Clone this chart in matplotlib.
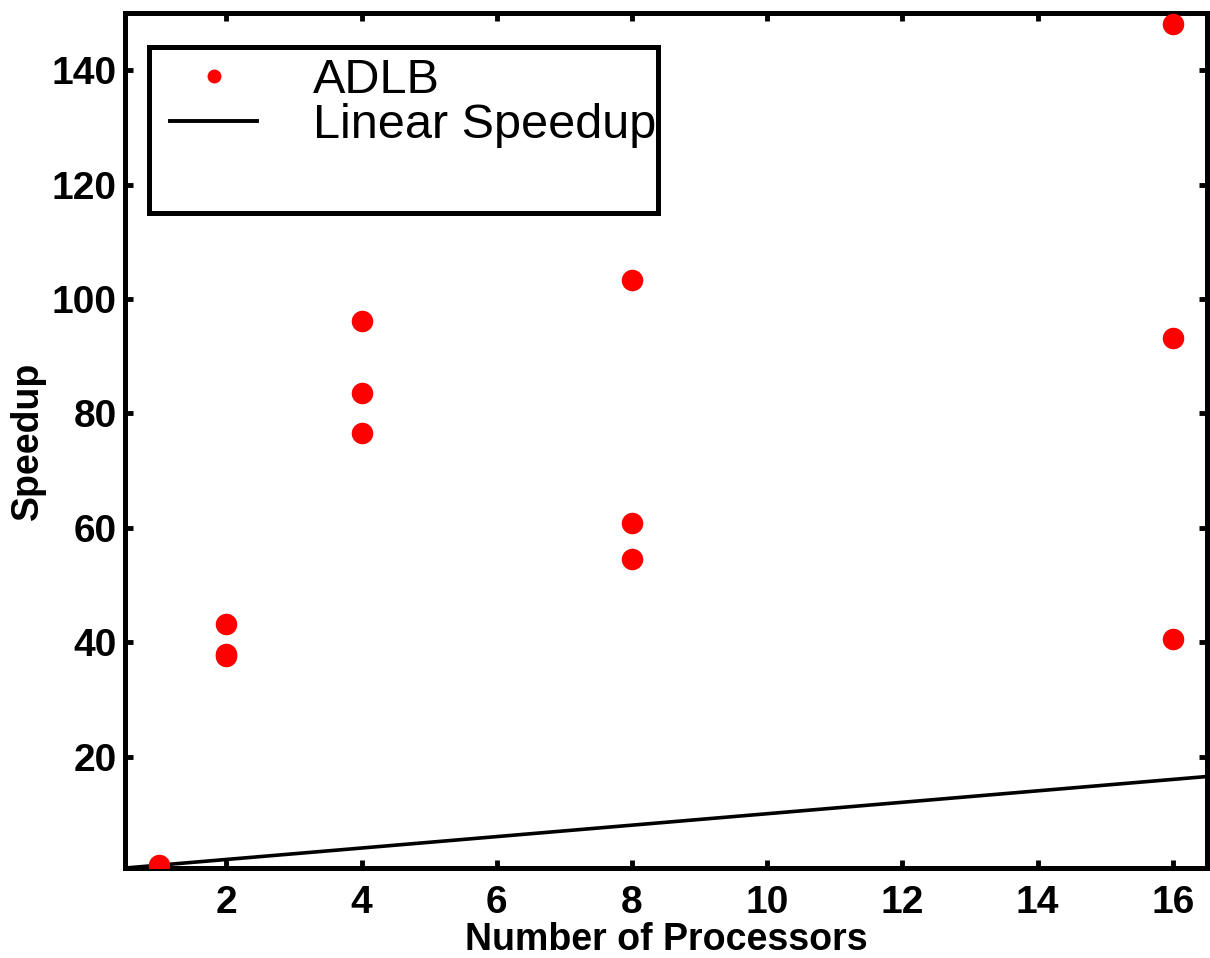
import numpy as np
import matplotlib
matplotlib.use("Agg")
import matplotlib.pyplot as plt
from matplotlib.lines import Line2D
from matplotlib.patches import Rectangle

procs = [1, 2, 2, 2, 4, 4, 4, 8, 8, 8, 16, 16, 16]
speedup = [1.0, 43.2, 38.0, 37.5, 96.1, 83.5, 76.5, 103.4, 60.8, 54.6, 148.0, 93.2, 40.6]

# Ideal linear speedup
linear_x = [0.5, 16.5]
linear_y = [0.5, 16.5]

x_ticks = [2, 4, 6, 8, 10, 12, 14, 16]
y_ticks = [20, 40, 60, 80, 100, 120, 140]

plt.rcParams['font.family'] = ['Liberation Sans', 'DejaVu Sans']

fig = plt.figure(figsize=(12.1, 9.58), dpi=100)
ax = fig.add_axes([0.1033, 0.0939, 0.894, 0.8925])

ax.plot(linear_x, linear_y, color='black', linewidth=2.6, zorder=2)
ax.plot(procs, speedup, linestyle='none', marker='o', markersize=15.5,
        color='red', markeredgewidth=0, zorder=3)

ax.set_xlim(0.5, 16.5)
ax.set_ylim(0.5, 150)
ax.set_xticks(x_ticks)
ax.set_yticks(y_ticks)

for spine in ax.spines.values():
    spine.set_linewidth(3.6)

ax.tick_params(direction='in', length=6, width=3.5, top=True, right=True,
               labelsize=28)
ax.tick_params(axis='x', pad=12)
ax.tick_params(axis='y', pad=6)
for lab in ax.get_xticklabels() + ax.get_yticklabels():
    lab.set_fontweight('bold')

ax.set_xlabel('Number of Processors', fontsize=27, fontweight='bold', labelpad=1)
ax.set_ylabel('Speedup', fontsize=27, fontweight='bold', labelpad=4)

# Legend entries (frame drawn separately, the box has extra room below)
handles = [
    Line2D([], [], linestyle='none', marker='o', markersize=10, color='red',
           markeredgewidth=0),
    Line2D([], [], color='black', linewidth=2.8),
]
leg = ax.legend(handles, ['ADLB', 'Linear Speedup'], loc='upper left',
                bbox_to_anchor=(0.0416, 0.947), borderaxespad=0, borderpad=0,
                prop={'size': 35}, handlelength=1.8, handletextpad=1.15,
                labelspacing=0.0, frameon=False)
ax.add_patch(Rectangle((0.0226, 0.7667), 0.4705, 0.1941, transform=ax.transAxes,
                       facecolor='white', edgecolor='black', linewidth=3.6,
                       zorder=4))
leg.set_zorder(5)

fig.savefig('out.png', dpi=100)
